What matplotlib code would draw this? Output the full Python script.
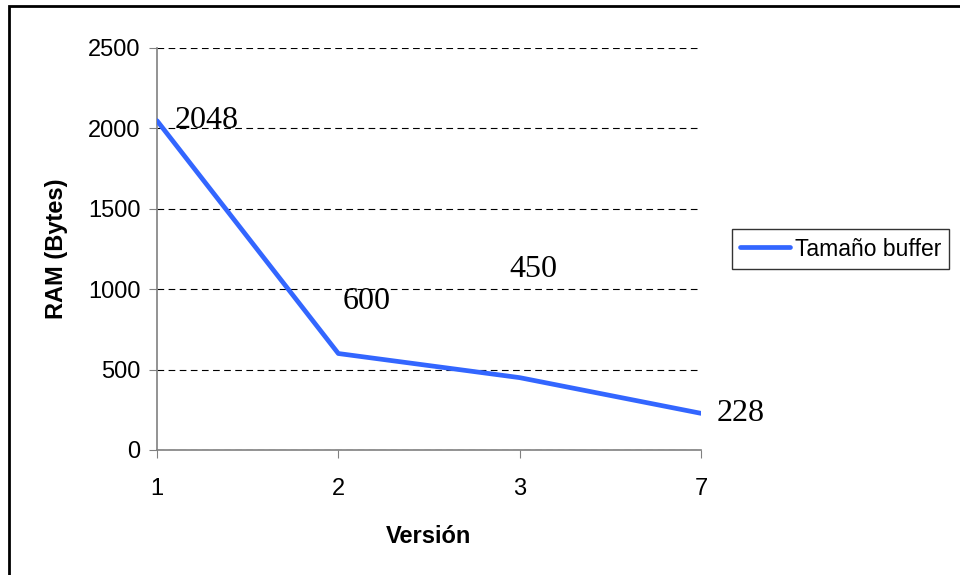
import matplotlib.pyplot as plt
from matplotlib.patches import Rectangle

# Chart data
versions = ['1', '2', '3', '7']
ram_bytes = [2048, 600, 450, 228]
series_name = 'Tamaño buffer'

# Label offsets in pixels (dx, dy) for each data label
label_offsets = [(50, 0), (28, 52), (14, 108), (40, 0)]

fig = plt.figure(figsize=(9.6, 5.75), dpi=100)
ax = fig.add_axes([157 / 960, 1 - 450 / 575, 544 / 960, 402 / 575])

x = list(range(len(versions)))
ax.plot(x, ram_bytes, color='#3366FF', linewidth=3.4, label=series_name,
        solid_capstyle='round', zorder=3)

for xi, v, (dx, dy) in zip(x, ram_bytes, label_offsets):
    ax.annotate(str(v), (xi, v), xytext=(dx, dy), textcoords='offset pixels',
                ha='center', va='center', fontsize=23,
                family='Liberation Serif', zorder=4)

ax.set_xlim(0, len(versions) - 1)
ax.set_ylim(0, 2500)
ax.set_xticks(x)
ax.set_xticklabels(versions)
ax.set_yticks([0, 500, 1000, 1500, 2000, 2500])

ax.yaxis.grid(True, linestyle=(0, (6, 4)), color='black', linewidth=0.8)
ax.set_axisbelow(True)

for s in ['top', 'right']:
    ax.spines[s].set_visible(False)
for s in ['left', 'bottom']:
    ax.spines[s].set_color('#808080')
    ax.spines[s].set_linewidth(1.2)

fs = 17
ax.tick_params(axis='both', direction='out', length=6, color='#808080',
               labelsize=fs, pad=6)
ax.tick_params(axis='x', pad=14)
for lbl in ax.get_xticklabels() + ax.get_yticklabels():
    lbl.set_family('Liberation Sans')

ax.set_xlabel('Versión', fontsize=fs, fontweight='bold',
              family='Liberation Sans', labelpad=18)
ax.set_ylabel('RAM (Bytes)', fontsize=fs, fontweight='bold',
              family='Liberation Sans', labelpad=14)

leg = ax.legend(loc='center left', bbox_to_anchor=(732 / 960, 1 - 249 / 575),
                bbox_transform=fig.transFigure, frameon=True, fancybox=False,
                prop={'family': 'Liberation Sans', 'size': 16.5},
                handlelength=2.2, handletextpad=0.2, borderpad=0.35,
                borderaxespad=0)
leg.get_frame().set_edgecolor('black')
leg.get_frame().set_linewidth(1.0)

# Outer chart-area border (clipped on the right and bottom, as in the source)
fig.patches.append(Rectangle((9 / 960, -0.05), 1.1, 1 - 6 / 575 + 0.05,
                             transform=fig.transFigure, fill=False,
                             edgecolor='black', linewidth=2.0))

fig.savefig('out.png', dpi=100)
